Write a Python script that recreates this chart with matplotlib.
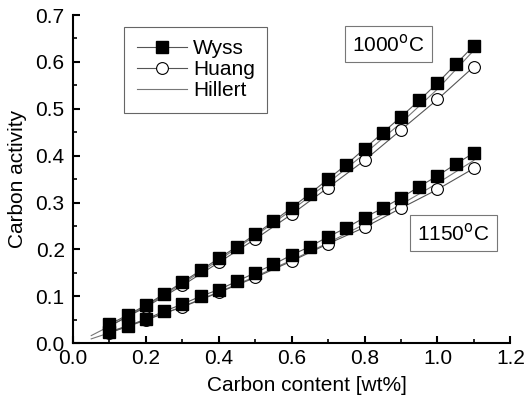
import matplotlib.pyplot as plt
import numpy as np

plt.rcParams['font.family'] = ['Liberation Sans', 'DejaVu Sans']

# 1000 C
x_wyss = np.array([0.10, 0.15, 0.20, 0.25, 0.30, 0.35, 0.40, 0.45, 0.50, 0.55, 0.60,
                   0.65, 0.70, 0.75, 0.80, 0.85, 0.90, 0.95, 1.00, 1.05, 1.10])
wyss_1000 = np.array([0.040, 0.060, 0.081, 0.105, 0.130, 0.155, 0.181, 0.206, 0.232, 0.260, 0.289,
                      0.319, 0.350, 0.381, 0.415, 0.449, 0.483, 0.518, 0.555, 0.595, 0.635])
x_huang = np.array([0.1, 0.2, 0.3, 0.4, 0.5, 0.6, 0.7, 0.8, 0.9, 1.0, 1.1])
huang_1000 = np.array([0.036, 0.077, 0.123, 0.172, 0.222, 0.275, 0.332, 0.390, 0.455, 0.520, 0.590])
x_hill = np.array([0.05, 0.1, 0.2, 0.3, 0.4, 0.5, 0.6, 0.7, 0.8, 0.9, 1.0, 1.1])
hill_1000 = np.array([0.016, 0.036, 0.079, 0.127, 0.177, 0.229, 0.284, 0.342, 0.404, 0.470, 0.542, 0.625])

# 1150 C
wyss_1150 = np.array([0.024, 0.037, 0.051, 0.068, 0.083, 0.100, 0.114, 0.132, 0.150, 0.168, 0.188,
                      0.206, 0.227, 0.246, 0.268, 0.288, 0.310, 0.334, 0.357, 0.382, 0.406])
huang_1150 = np.array([0.022, 0.050, 0.077, 0.108, 0.140, 0.175, 0.212, 0.247, 0.288, 0.328, 0.373])
hill_1150 = np.array([0.009, 0.022, 0.049, 0.078, 0.109, 0.142, 0.177, 0.214, 0.254, 0.296, 0.341, 0.390])

fig = plt.figure(figsize=(5.27, 4.07), dpi=100)
ax = fig.add_axes([0.1385, 0.157, 0.83, 0.806])

lc = '#555555'
for wy, hu, hi in [(wyss_1000, huang_1000, hill_1000), (wyss_1150, huang_1150, hill_1150)]:
    ax.plot(x_hill, hi, '-', color='#777777', lw=0.8)
    ax.plot(x_huang, hu, '-o', color=lc, lw=0.8, ms=8.5, mfc='white', mec='black', mew=0.8)
    ax.plot(x_wyss, wy, '-s', color=lc, lw=0.8, ms=8, mfc='black', mec='black')

h1, = ax.plot([], [], '-s', color=lc, lw=0.8, ms=8, mfc='black', mec='black')
h2, = ax.plot([], [], '-o', color=lc, lw=0.8, ms=8.5, mfc='white', mec='black', mew=0.8)
h3, = ax.plot([], [], '-', color='#777777', lw=0.8)
leg = ax.legend([h1, h2, h3], ['Wyss', 'Huang', 'Hillert'], loc='upper left',
                bbox_to_anchor=(0.117, 0.965), fontsize=15, fancybox=False, framealpha=1,
                edgecolor='#666666', handlelength=2.4, labelspacing=0.1, borderpad=0.6,
                handletextpad=0.3, borderaxespad=0)
leg.get_frame().set_linewidth(0.8)

box = dict(boxstyle='square,pad=0.35', fc='white', ec='#777777', lw=0.8)
ax.text(0.865, 0.638, '1000$^{\\mathrm{o}}$C', fontsize=15, ha='center', va='center', bbox=box)
ax.text(1.044, 0.235, '1150$^{\\mathrm{o}}$C', fontsize=15, ha='center', va='center', bbox=box)

ax.set_xlim(0, 1.2)
ax.set_ylim(0, 0.7)
ax.set_xticks(np.arange(0, 1.21, 0.2))
ax.set_xticks(np.arange(0.1, 1.2, 0.2), minor=True)
ax.set_yticks(np.arange(0, 0.71, 0.1))
ax.set_yticks(np.arange(0.05, 0.7, 0.1), minor=True)
ax.xaxis.set_major_formatter(plt.FormatStrFormatter('%.1f'))
ax.yaxis.set_major_formatter(plt.FormatStrFormatter('%.1f'))
ax.spines['top'].set_visible(False)
ax.spines['right'].set_visible(False)
for s in ['left', 'bottom']:
    ax.spines[s].set_linewidth(1.5)
ax.tick_params(which='major', direction='in', length=5, width=1.5, labelsize=15)
ax.tick_params(which='minor', direction='in', length=3, width=1.2)
ax.tick_params(axis='x', pad=4)
ax.tick_params(axis='y', pad=6)
ax.set_xlabel('Carbon content [wt%]', fontsize=15)
ax.set_ylabel('Carbon activity', fontsize=15, labelpad=6)
ax.xaxis.set_label_coords(0.535, -0.1)

fig.savefig('out.png', dpi=100)
